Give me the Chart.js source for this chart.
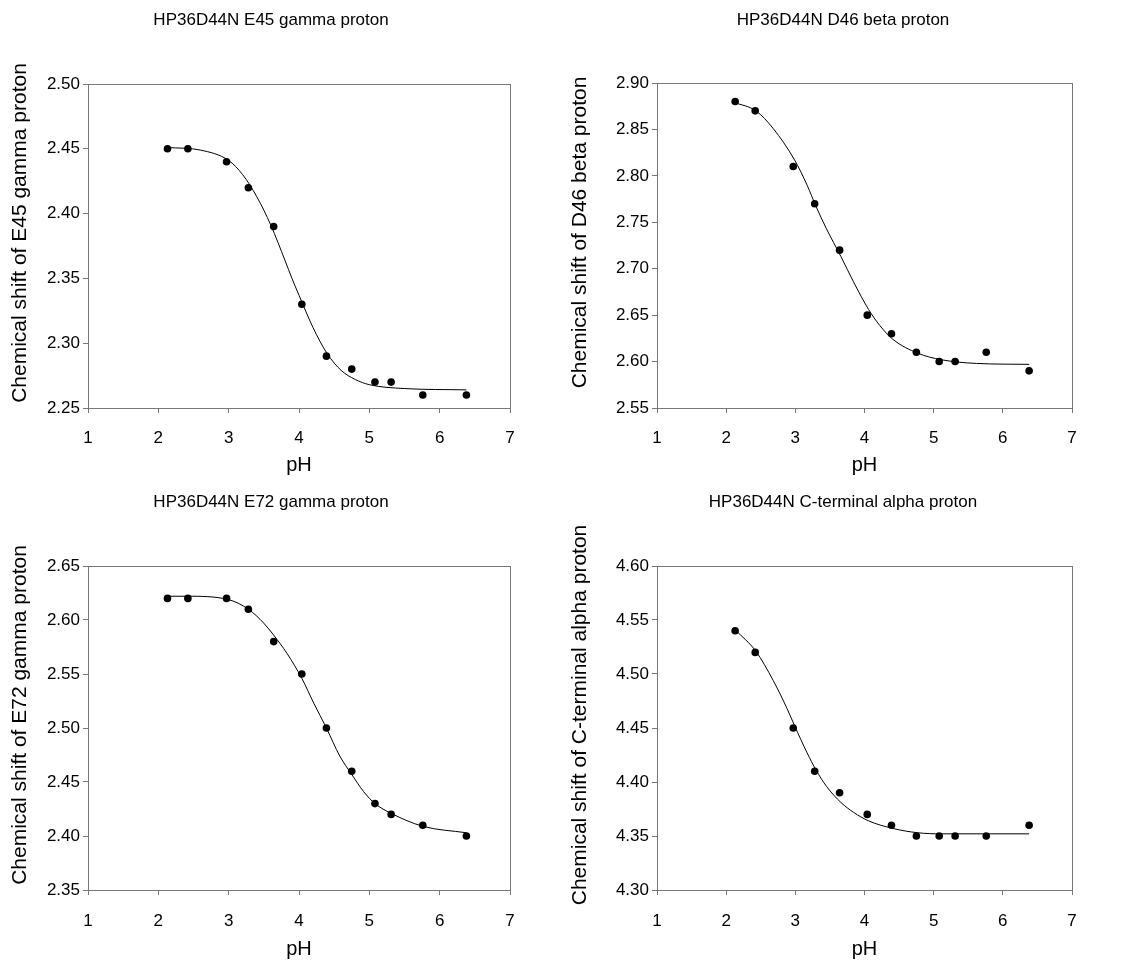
<!DOCTYPE html>
<html>
<head>
<meta charset="utf-8">
<title>HP36D44N pH titration</title>
<script src="https://cdn.jsdelivr.net/npm/chart.js@4.4.0/dist/chart.umd.min.js"></script>
<style>
  body { margin: 0; background: #fff; }
  #wrap { position: relative; width: 1127px; height: 970px; }
  #wrap canvas { position: absolute; }
</style>
</head>
<body>
<div id="wrap">
  <canvas id="c1" width="560" height="485" style="left:0;top:0"></canvas>
  <canvas id="c2" width="567" height="485" style="left:560px;top:0"></canvas>
  <canvas id="c3" width="560" height="485" style="left:0;top:485px"></canvas>
  <canvas id="c4" width="567" height="485" style="left:560px;top:485px"></canvas>
</div>
<script>
// measured pH values (same samples for all four protons)
const pH = [2.13, 2.42, 2.97, 3.28, 3.64, 4.04, 4.39, 4.75, 5.08, 5.31, 5.76, 6.38];

// chemical shifts (ppm)
const shiftE45 = [2.45, 2.45, 2.44, 2.42, 2.39, 2.33, 2.29, 2.28, 2.27, 2.27, 2.26, 2.26];
const shiftD46 = [2.88, 2.87, 2.81, 2.77, 2.72, 2.65, 2.63, 2.61, 2.60, 2.60, 2.61, 2.59];
const shiftE72 = [2.62, 2.62, 2.62, 2.61, 2.58, 2.55, 2.50, 2.46, 2.43, 2.42, 2.41, 2.40];
const shiftCterm = [4.54, 4.52, 4.45, 4.41, 4.39, 4.37, 4.36, 4.35, 4.35, 4.35, 4.35, 4.36];

// fitted curves
const fitE45pH = [2.13, 2.60, 3.00, 3.20, 3.40, 3.60, 3.80, 3.90, 4.00, 4.20, 4.40, 4.60, 4.80, 5.00, 5.50, 6.38];
const fitE45 = [2.451, 2.449, 2.441, 2.430, 2.413, 2.391, 2.364, 2.350, 2.337, 2.312, 2.292, 2.279, 2.272, 2.268, 2.265, 2.264];

const fitD46pH = [2.12, 2.43, 2.68, 2.99, 3.17, 3.30, 3.45, 3.66, 3.84, 4.06, 4.22, 4.41, 4.77, 5.11, 5.62, 6.38];
const fitD46 = [2.879, 2.870, 2.851, 2.817, 2.790, 2.767, 2.743, 2.713, 2.686, 2.656, 2.639, 2.624, 2.609, 2.602, 2.598, 2.597];

const fitE72pH = [2.13, 2.42, 2.99, 3.28, 3.50, 3.64, 3.83, 4.04, 4.21, 4.39, 4.58, 4.75, 4.92, 5.08, 5.31, 5.76, 6.38];
const fitE72 = [2.622, 2.622, 2.619, 2.610, 2.597, 2.586, 2.569, 2.546, 2.523, 2.500, 2.474, 2.457, 2.441, 2.430, 2.421, 2.409, 2.403];

const fitCtermPH = [2.13, 2.43, 2.68, 2.88, 2.99, 3.17, 3.30, 3.45, 3.66, 3.84, 4.06, 4.41, 4.77, 5.11, 5.79, 6.38];
const fitCterm = [4.541, 4.521, 4.494, 4.468, 4.452, 4.427, 4.411, 4.396, 4.381, 4.372, 4.364, 4.357, 4.353, 4.352, 4.352, 4.352];

const fontFamily = "'Liberation Sans', Arial, sans-serif";
Chart.defaults.font.family = fontFamily;
Chart.defaults.color = '#000';

const frameColor = '#777';

// box round the plot area (top and right edges)
const framePlugin = {
  id: 'frame',
  afterDraw(chart) {
    const a = chart.chartArea;
    const ctx = chart.ctx;
    ctx.save();
    ctx.strokeStyle = frameColor;
    ctx.lineWidth = 1;
    ctx.strokeRect(Math.round(a.left) + 0.5, Math.round(a.top) + 0.5,
      Math.round(a.right - a.left), Math.round(a.bottom - a.top));
    ctx.restore();
  }
};

// panel title and rotated y label, placed like the original figure
const panelText = {
  id: 'panelText',
  afterDraw(chart, args, opts) {
    const a = chart.chartArea;
    const ctx = chart.ctx;
    ctx.save();
    ctx.fillStyle = '#000';
    ctx.textAlign = 'center';
    ctx.textBaseline = 'middle';
    ctx.font = '17px ' + fontFamily;
    ctx.fillText(opts.title, opts.titleX, opts.titleY);
    ctx.translate(opts.yLabelX, (a.top + a.bottom) / 2 + opts.yLabelShift);
    ctx.rotate(-Math.PI / 2);
    ctx.font = '21px ' + fontFamily;
    ctx.fillText(opts.yLabel, 0, 0);
    ctx.restore();
  }
};

function pairs(xs, ys) {
  return xs.map((x, i) => ({ x: x, y: ys[i] }));
}

function makeChart(id, cfg) {
  const ctx = document.getElementById(id).getContext('2d');
  return new Chart(ctx, {
    type: 'scatter',
    data: {
      datasets: [
        {
          data: pairs(cfg.fitX, cfg.fitY),
          showLine: true,
          borderColor: '#000',
          borderWidth: 1,
          pointRadius: 0,
          cubicInterpolationMode: 'monotone'
        },
        {
          data: pairs(pH, cfg.values),
          backgroundColor: '#000',
          borderColor: '#000',
          pointRadius: 3.8,
          borderWidth: 0
        }
      ]
    },
    options: {
      responsive: false,
      animation: false,
      layout: { padding: { right: cfg.padRight, left: 0, bottom: 0, top: cfg.areaTop } },
      plugins: {
        legend: { display: false },
        tooltip: { enabled: false },
        title: { display: false },
        panelText: {
          title: cfg.title, titleX: cfg.titleX, titleY: cfg.titleY,
          yLabel: cfg.yLabel, yLabelX: 20, yLabelShift: -13
        }
      },
      scales: {
        x: {
          type: 'linear',
          min: 1,
          max: 7,
          afterFit(scale) { scale.height = cfg.xAxisH; },
          ticks: { stepSize: 1, font: { size: 17 }, padding: cfg.xTickPad, color: '#000' },
          grid: { drawOnChartArea: false, drawTicks: true, tickLength: 5, color: frameColor },
          border: { display: true, color: frameColor },
          title: { display: true, text: 'pH', font: { size: 20 }, padding: { top: 0, bottom: cfg.xTitleBottom } }
        },
        y: {
          type: 'linear',
          min: cfg.ymin,
          max: cfg.ymax,
          afterFit(scale) { scale.width = cfg.yAxisW; },
          ticks: {
            stepSize: 0.05,
            font: { size: 17 },
            padding: 3,
            color: '#000',
            callback: v => Number(v).toFixed(2)
          },
          grid: { drawOnChartArea: false, drawTicks: true, tickLength: 5, color: frameColor },
          border: { display: true, color: frameColor }
        }
      }
    },
    plugins: [framePlugin, panelText]
  });
}

makeChart('c1', {
  title: 'HP36D44N E45 gamma proton', titleX: 271, titleY: 20,
  yLabel: 'Chemical shift of E45 gamma proton',
  ymin: 2.25, ymax: 2.50,
  values: shiftE45, fitX: fitE45pH, fitY: fitE45,
  yAxisW: 88, padRight: 50, areaTop: 84, xAxisH: 77, xTickPad: 15, xTitleBottom: 8
});

makeChart('c2', {
  title: 'HP36D44N D46 beta proton', titleX: 283, titleY: 20,
  yLabel: 'Chemical shift of D46 beta proton',
  ymin: 2.55, ymax: 2.90,
  values: shiftD46, fitX: fitD46pH, fitY: fitD46,
  yAxisW: 97, padRight: 55, areaTop: 83, xAxisH: 77, xTickPad: 15, xTitleBottom: 8
});

makeChart('c3', {
  title: 'HP36D44N E72 gamma proton', titleX: 271, titleY: 17,
  yLabel: 'Chemical shift of E72 gamma proton',
  ymin: 2.35, ymax: 2.65,
  values: shiftE72, fitX: fitE72pH, fitY: fitE72,
  yAxisW: 88, padRight: 50, areaTop: 81, xAxisH: 80, xTickPad: 16, xTitleBottom: 9
});

makeChart('c4', {
  title: 'HP36D44N C-terminal alpha proton', titleX: 283, titleY: 17,
  yLabel: 'Chemical shift of C-terminal alpha proton',
  ymin: 4.30, ymax: 4.60,
  values: shiftCterm, fitX: fitCtermPH, fitY: fitCterm,
  yAxisW: 97, padRight: 55, areaTop: 81, xAxisH: 80, xTickPad: 16, xTitleBottom: 9
});
</script>
</body>
</html>
